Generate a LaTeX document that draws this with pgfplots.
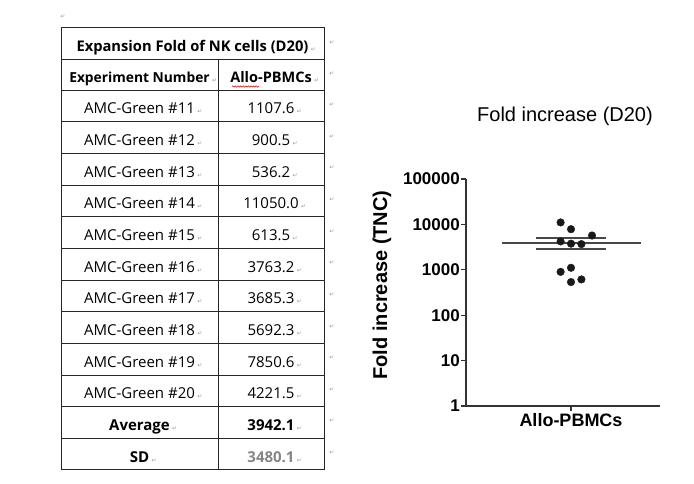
\documentclass[border=0pt]{standalone}
\usepackage{pgfplots}
\pgfplotsset{compat=1.18}
\usepackage{fontspec}
\setmainfont{Liberation Sans}
\newfontfamily\tabfont{Open Sans}
\newfontfamily\markfont{DejaVu Sans}
\usetikzlibrary{decorations.pathmorphing}
\definecolor{axisgray}{HTML}{333333}
\definecolor{linegray}{HTML}{484848}
\definecolor{markgray}{HTML}{9A9A9A}
\definecolor{gridline}{HTML}{262626}
\definecolor{sdgray}{HTML}{858585}
\newcommand{\pmark}{{\markfont\fontsize{6}{6}\selectfont ↵}}
\newcommand{\cell}[4][]{%
  \node[anchor=base, inner sep=0pt, font=\tabfont\fontsize{15}{15}\selectfont#1] (c) at (#2,#3) {#4};
  \node[anchor=base west, inner sep=0pt, xshift=2pt, text=markgray] at (c.base east) {\pmark};}
\begin{document}
\begin{tikzpicture}[x=1pt,y=-1pt]
\path[use as bounding box] (0,0) rectangle (694,484);
% ---------- table ----------
\draw[gridline, line width=1pt] (61,28) rectangle (324,469);
\foreach \yy in {59,90,121.7,153.3,185,216.7,248.3,280,311.7,343.3,375,406.7,438.3}
  \draw[gridline, line width=0.9pt] (61,\yy) -- (324,\yy);
\draw[gridline, line width=0.9pt] (218,59) -- (218,469);
\cell[\bfseries\fontsize{14.7}{15}\selectfont]{192.5}{51.5}{Expansion Fold of NK cells (D20)}
\cell[\bfseries\fontsize{13.8}{15}\selectfont]{139.5}{82.5}{Experiment Number}
\cell[\bfseries\fontsize{14.5}{15}\selectfont]{271}{82.5}{Allo-PBMCs}
\draw[red!85!black, line width=0.5pt, decorate, decoration={snake, amplitude=0.7pt, segment length=2.6pt}] (232,86.5) -- (259,86.5);
\cell{139.5}{114}{AMC-Green \#11}
\cell{271}{114}{1107.6}
\cell{139.5}{145.5}{AMC-Green \#12}
\cell{271}{145.5}{900.5}
\cell{139.5}{177.2}{AMC-Green \#13}
\cell{271}{177.2}{536.2}
\cell{139.5}{208.8}{AMC-Green \#14}
\cell{271}{208.8}{11050.0}
\cell{139.5}{240.5}{AMC-Green \#15}
\cell{271}{240.5}{613.5}
\cell{139.5}{272.2}{AMC-Green \#16}
\cell{271}{272.2}{3763.2}
\cell{139.5}{303.8}{AMC-Green \#17}
\cell{271}{303.8}{3685.3}
\cell{139.5}{335.5}{AMC-Green \#18}
\cell{271}{335.5}{5692.3}
\cell{139.5}{367.2}{AMC-Green \#19}
\cell{271}{367.2}{7850.6}
\cell{139.5}{398.8}{AMC-Green \#20}
\cell{271}{398.8}{4221.5}
\cell[\bfseries]{139.5}{430.5}{Average}
\cell[\bfseries]{271}{430.5}{3942.1}
\cell[\bfseries]{139.5}{462}{SD}
\cell[\bfseries\color{sdgray}]{271}{462}{3480.1}
\foreach \yy in {43,74,105,137,168,200,232,263,295,327,358,390,421,453}
  \node[text=markgray, inner sep=0pt] at (332,\yy) {\pmark};
\node[text=markgray, inner sep=0pt] at (63,17) {\pmark};
% ---------- plot ----------
\node[font=\fontsize{20}{20}\selectfont] at (565,116) {Fold increase (D20)};
\begin{axis}[
  at={(466pt,-406pt)}, anchor=south west,
  scale only axis, width=194pt, height=227pt,
  xmin=-1.05, xmax=0.89,
  ymode=log, ymin=1, ymax=100000,
  clip=false,
  axis x line=bottom, axis y line=left,
  axis line style={-, draw=axisgray, line width=1.4pt},
  tick align=outside, major tick length=5pt,
  tick style={draw=axisgray, line width=1.3pt},
  yminorticks=false, xminorticks=false,
  xtick={0}, xticklabels={Allo-PBMCs},
  ytick={1,10,100,1000,10000,100000},
  yticklabels={1,10,100,1000,10000,100000},
  yticklabel style={font=\fontsize{17}{17}\selectfont\bfseries, inner sep=1pt},
  xticklabel style={font=\fontsize{18}{18}\selectfont\bfseries, inner sep=2pt},
  ylabel={Fold increase (TNC)},
  ylabel style={font=\fontsize{20}{20}\selectfont\bfseries, at={(axis description cs:-0.433,0.533)}, anchor=center, rotate=0},
]
\addplot[only marks, mark=*, mark size=3.8pt, mark options={fill=black!90, draw=black!90}]
 coordinates {(-0.104,11050.0) (0,7850.6) (0.21,5692.3) (-0.104,4221.5) (0,3763.2) (0.104,3685.3) (0,1107.6) (-0.104,900.5) (0,536.2) (0.104,613.5)};
\addplot[draw=linegray, line width=1.8pt] coordinates {(-0.69,3942.1) (0.70,3942.1)};
\addplot[draw=linegray, line width=1.5pt] coordinates {(-0.35,5042.6) (0.35,5042.6)};
\addplot[draw=linegray, line width=1.5pt] coordinates {(-0.35,2841.6) (0.35,2841.6)};
\end{axis}
\end{tikzpicture}
\end{document}
